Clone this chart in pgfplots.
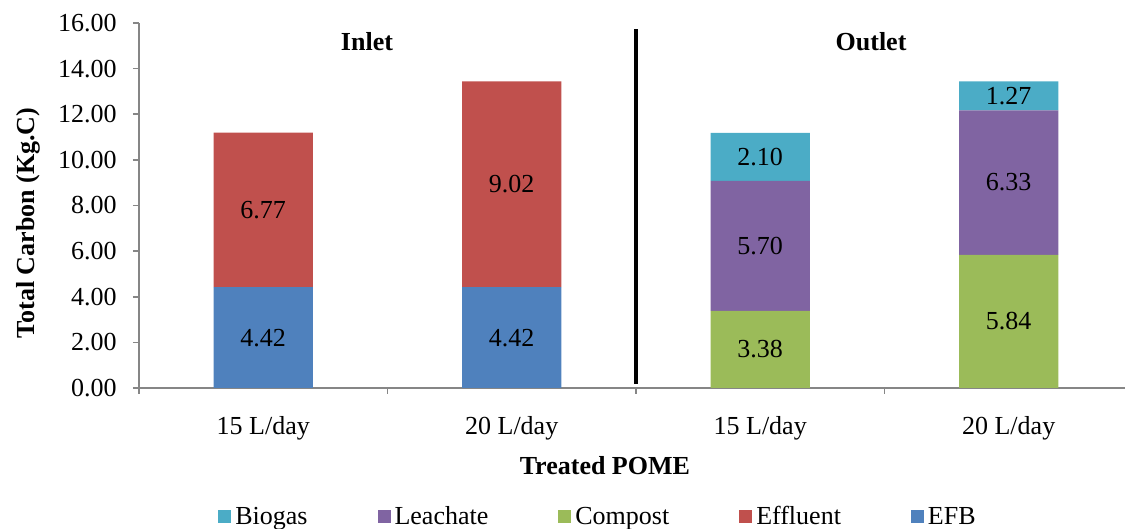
\documentclass[border=0pt]{standalone}
\usepackage{fontspec}
\setmainfont{Liberation Serif}
\usepackage{pgfplots}
\pgfplotsset{compat=1.18}
\definecolor{cEFB}{RGB}{79,129,189}
\definecolor{cEff}{RGB}{192,80,77}
\definecolor{cComp}{RGB}{155,187,89}
\definecolor{cLea}{RGB}{128,100,162}
\definecolor{cBio}{RGB}{75,172,198}
\definecolor{axgray}{RGB}{134,134,134}

\begin{document}
\begin{tikzpicture}[font=\fontsize{13}{15.6}\selectfont]
\useasboundingbox (-69.5pt,-70.5pt) rectangle (493pt,194pt);
\begin{axis}[
    at={(0,0)}, anchor=south west,
    scale only axis,
    width=493pt, height=182.5pt,
    ybar stacked,
    bar width=0.4,
    xmin=-0.5, xmax=3.468,
    ymin=0, ymax=16,
    axis x line*=bottom, axis y line*=left,
    axis line style={axgray, line width=0.8pt},
    xtick={0,1,2,3},
    xticklabels={15 L/day, 20 L/day, 15 L/day, 20 L/day},
    major x tick style={draw=none},
    minor xtick={-0.5,0.5,1.5,2.5},
    minor x tick style={axgray, line width=0.8pt},
    minor tick length=3pt,
    ytick={0,2,...,16},
    y tick style={axgray, line width=0.8pt},
    major tick length=3pt,
    tick align=outside,
    /pgf/number format/fixed,
    /pgf/number format/fixed zerofill,
    /pgf/number format/precision=2,
    /pgf/number format/assume math mode=true,
    yticklabel style={xshift=-4.7pt},
    xticklabel style={yshift=-7.5pt},
    ylabel={\bfseries Total Carbon (Kg.C)},
    ylabel style={at={(rel axis cs:-0.1126,0.452)}, anchor=center},
    xlabel={\bfseries Treated POME},
    xlabel style={at={(rel axis cs:0.4725,-0.2137)}, anchor=center},
    reverse legend,
    legend columns=5,
    legend style={draw=none, at={(230pt,-64.5pt)}, anchor=center,
        /tikz/every even column/.append style={column sep=33pt},
        nodes={inner xsep=2pt}},
    legend image code/.code={\fill[#1] (0pt,-3.25pt) rectangle (6.5pt,3.25pt);},
    clip=false,
]
\addplot[fill=cEFB, draw=none] coordinates {(0,4.42) (1,4.42) (2,0) (3,0)};
\addlegendentry{EFB}
\addplot[fill=cEff, draw=none] coordinates {(0,6.77) (1,9.02) (2,0) (3,0)};
\addlegendentry{Effluent}
\addplot[fill=cComp, draw=none] coordinates {(0,0) (1,0) (2,3.38) (3,5.84)};
\addlegendentry{Compost}
\addplot[fill=cLea, draw=none] coordinates {(0,0) (1,0) (2,5.70) (3,6.33)};
\addlegendentry{Leachate}
\addplot[fill=cBio, draw=none] coordinates {(0,0) (1,0) (2,2.10) (3,1.27)};
\addlegendentry{Biogas}

% anchor points for the segment labels (drawn after the axis, above the bars)
\coordinate (l1) at (axis cs:0,2.21);
\coordinate (l2) at (axis cs:1,2.21);
\coordinate (l3) at (axis cs:0,7.805);
\coordinate (l4) at (axis cs:1,8.93);
\coordinate (l5) at (axis cs:2,1.69);
\coordinate (l6) at (axis cs:3,2.92);
\coordinate (l7) at (axis cs:2,6.23);
\coordinate (l8) at (axis cs:3,9.005);
\coordinate (l9) at (axis cs:2,10.13);
\coordinate (l10) at (axis cs:3,12.805);

% group titles and divider
\node[font=\fontsize{13}{15.6}\selectfont\bfseries] at (axis cs:0.4175,15.19) {Inlet};
\node[font=\fontsize{13}{15.6}\selectfont\bfseries] at (axis cs:2.446,15.19) {Outlet};
\draw[black, line width=1.8pt] (axis cs:1.5,0.175) -- (axis cs:1.5,15.74);
\end{axis}
\node at (l1) {4.42};
\node at (l2) {4.42};
\node at (l3) {6.77};
\node at (l4) {9.02};
\node at (l5) {3.38};
\node at (l6) {5.84};
\node at (l7) {5.70};
\node at (l8) {6.33};
\node at (l9) {2.10};
\node at (l10) {1.27};
\end{tikzpicture}
\end{document}
